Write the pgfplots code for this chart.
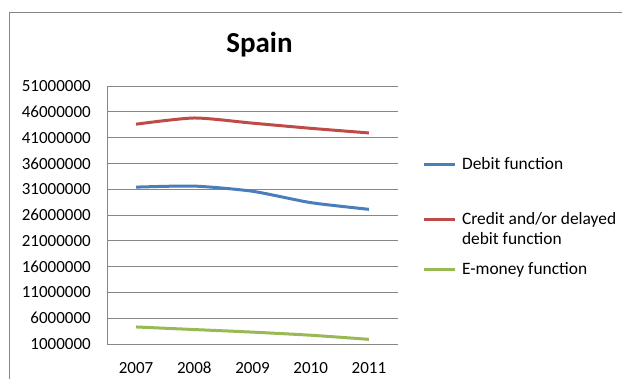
\documentclass[border=0pt]{standalone}
\usepackage{fontspec}
\setmainfont{Carlito}
\usepackage{pgfplots}
\pgfplotsset{compat=1.18}
\definecolor{sblue}{HTML}{4A7EBB}
\definecolor{sred}{HTML}{BE4B48}
\definecolor{sgreen}{HTML}{98B954}
\definecolor{sgrid}{HTML}{868686}
\begin{document}
\begin{tikzpicture}[x=1pt,y=1pt]
\useasboundingbox (0pt,0pt) rectangle (622pt,379pt);
\draw[sgrid, line width=1pt] (9pt,-2pt) -- (9pt,366pt) -- (624pt,366pt);
\node[font=\fontsize{29}{34}\selectfont\bfseries, anchor=base] at (259.5pt,326pt) {Spain};
\begin{axis}[
  at={(107pt,35pt)}, anchor=south west,
  scale only axis, width=291pt, height=258pt,
  xmin=-0.5, xmax=4.5,
  ymin=1000000, ymax=51000000,
  xtick={0,1,2,3,4},
  xticklabels={2007,2008,2009,2010,2011},
  ytick={1000000,6000000,11000000,16000000,21000000,26000000,31000000,36000000,41000000,46000000,51000000},
  scaled y ticks=false,
  yticklabel style={/pgf/number format/fixed, /pgf/number format/1000 sep={}, /pgf/number format/precision=0},
  /pgf/number format/assume math mode=true,
  tick label style={font=\fontsize{17}{20}\selectfont, inner sep=0pt},
  xticklabel style={yshift=-18pt},
  yticklabel style={xshift=-16pt},
  major tick length=0pt,
  ymajorgrids, grid style={sgrid, line width=0.8pt},
  axis x line*=bottom, axis y line*=left,
  axis line style={sgrid, line width=0.8pt, -},
  legend style={draw=none, fill=none, at={(axis description cs:1.082,0.723)}, anchor=north west,
    inner sep=0pt, row sep=0pt, column sep=6pt,
    nodes={inner sep=0pt, font=\fontsize{17.4}{21}\selectfont, anchor=base west}},
  legend cell align=left,
  legend image code/.code={\draw[#1, line width=3pt] (0pt,5pt) -- (31pt,5pt);},
  every axis plot/.append style={line width=3pt, smooth, tension=0.4},
]
\addplot[sblue] coordinates {(0,31400000) (1,31600000) (2,30600000) (3,28400000) (4,27100000)};
\addlegendentry{Debit function}
\addplot[sred] coordinates {(0,43600000) (1,44800000) (2,43800000) (3,42800000) (4,41900000)};
\addlegendentry{\rule{0pt}{53pt}\begin{tabular}[t]{@{}l@{}}Credit and/or delayed\\[-1pt]debit function\end{tabular}}
\addplot[sgreen] coordinates {(0,4300000) (1,3800000) (2,3300000) (3,2700000) (4,1900000)};
\addlegendentry{\rule{0pt}{49pt}E-money function}
\end{axis}
\end{tikzpicture}
\end{document}
